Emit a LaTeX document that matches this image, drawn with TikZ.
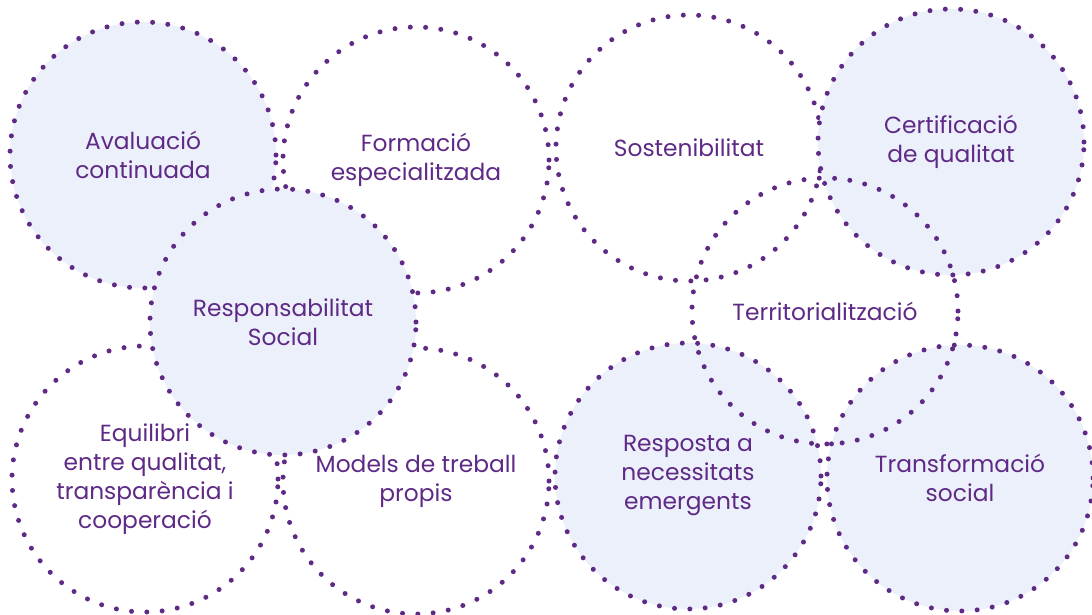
\documentclass[tikz,border=0pt]{standalone}
\usepackage{fontspec}
\setmainfont{Poppins}
\usepackage{xcolor}
\usepackage{tikz}
\definecolor{dotpurple}{HTML}{5E2A86}
\definecolor{softblue}{HTML}{ECF0FA}
\tikzstyle{ring} = [circle, draw=dotpurple, line width=3.75pt, line cap=round,
    dash pattern=on 0pt off 11.5pt, minimum size=199.5pt, inner sep=0pt,
    text=dotpurple, align=center, font=\fontsize{17.5}{21.75}\selectfont]
\tikzstyle{ringfill} = [ring, fill=softblue]

\begin{document}
\begin{tikzpicture}[x=0.75pt, y=-0.75pt]
\useasboundingbox (0,0) rectangle (1092,614);
% left group
\node [ringfill] (avaluacio) at (143,155) {Avaluació\\continuada};
\node [ring] (formacio) at (416,160) {Formació\\especialitzada};
\node [ring] (equilibri) at (145,479) {Equilibri\\entre qualitat,\\transparència i\\cooperació};
\node [ring] (models) at (416,481) {Models de treball\\propis};
\node [ringfill] (responsabilitat) at (283,322) {Responsabilitat\\Social};
% right group
\node [ring] (sostenibilitat) at (689,148) {Sostenibilitat};
\node [ringfill] (certificacio) at (951,142) {Certificació\\de qualitat};
\node [ringfill] (resposta) at (688,476) {Resposta a\\necessitats\\emergents};
\node [ringfill] (transformacio) at (960,478) {Transformació\\social};
\node [ring] (territorialitzacio) at (825,311) {Territorialització};
\end{tikzpicture}
\end{document}
